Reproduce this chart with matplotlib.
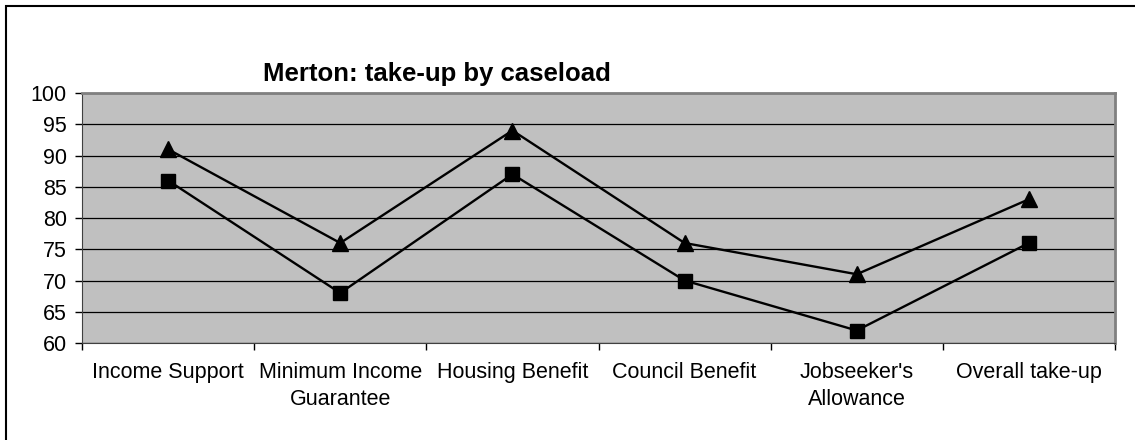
import matplotlib.pyplot as plt
from matplotlib.patches import Rectangle

categories = ["Income Support", "Minimum Income\nGuarantee", "Housing Benefit",
              "Council Benefit", "Jobseeker's\nAllowance", "Overall take-up"]
upper = [91, 76, 94, 76, 71, 83]
lower = [86, 68, 87, 70, 62, 76]

plt.rcParams['font.family'] = ['Liberation Sans', 'DejaVu Sans']

W, H = 1135, 440
fig = plt.figure(figsize=(W / 100, H / 100), dpi=100)
ax = fig.add_axes([82 / W, 1 - 343 / H, (1115 - 82) / W, (343 - 93) / H])

# outer frame of the chart area
fig.patches.append(Rectangle((6 / W, -0.1), 1.2, 1 - 6 / H + 0.1,
                             transform=fig.transFigure, fill=False,
                             edgecolor='black', linewidth=1.5))

x = range(len(categories))
ax.set_facecolor('#c0c0c0')
ax.plot(x, upper, color='black', linewidth=1.7, marker='^', markersize=11, zorder=3)
ax.plot(x, lower, color='black', linewidth=1.7, marker='s', markersize=10.5, zorder=3)

ax.set_xlim(-0.5, len(categories) - 0.5)
ax.set_ylim(60, 100)
ax.set_yticks(range(60, 101, 5))
ax.set_xticks(x)
ax.set_xticklabels(categories, fontsize=15.5, linespacing=1.35)
ax.set_xticks([i - 0.5 for i in range(len(categories) + 1)], minor=True)
ax.tick_params(axis='x', which='major', length=0, pad=14)
ax.tick_params(axis='x', which='minor', length=5, width=1, direction='out')
ax.tick_params(axis='y', length=5, width=1, labelsize=15.5, pad=6)

ax.grid(axis='y', color='black', linewidth=0.9)
ax.set_axisbelow(True)
for side in ['top', 'right']:
    ax.spines[side].set_color('#808080')
    ax.spines[side].set_linewidth(2)
ax.spines['left'].set_color('#404040')
ax.spines['bottom'].set_color('#404040')

fig.text(437 / W, 1 - 74 / H, "Merton: take-up by caseload",
         ha='center', va='center', fontsize=18.5, fontweight='bold')

fig.savefig('out.png', dpi=100)
